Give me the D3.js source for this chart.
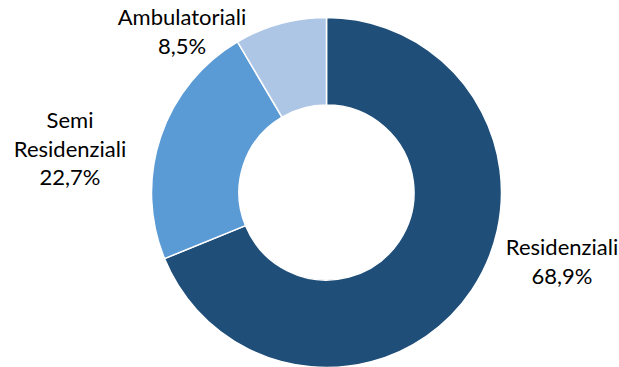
<!DOCTYPE html>
<html>
<head>
<meta charset="utf-8">
<script src="https://cdn.jsdelivr.net/npm/d3@7"></script>
<style>
  html, body { margin: 0; padding: 0; background: #fff; }
  svg { display: block; }
  text { font-family: Lato, "Open Sans", sans-serif; fill: #000; }
</style>
</head>
<body>
<svg id="chart" width="619" height="367"></svg>
<script>
// Service share by category
const categories = ["Residenziali", "Semi Residenziali", "Ambulatoriali"];
const values = [68.9, 22.7, 8.5];
const valueLabels = ["68,9%", "22,7%", "8,5%"];
const labelLines = [["Residenziali"], ["Semi", "Residenziali"], ["Ambulatoriali"]];
const colors = ["#1F4E79", "#5B9BD5", "#ADC6E6"];

const width = 619, height = 367;
const cx = 326.5, cy = 192.5;
const outerR = 175, innerR = 87.5;

const svg = d3.select("#chart");
const g = svg.append("g").attr("transform", `translate(${cx},${cy})`);

const pie = d3.pie().sort(null).value(d => d)(values);
const arc = d3.arc().innerRadius(innerR).outerRadius(outerR);

g.selectAll("path.slice")
  .data(pie)
  .join("path")
  .attr("class", "slice")
  .attr("d", arc)
  .attr("fill", (d, i) => colors[i])
  .attr("stroke", "#fff")
  .attr("stroke-width", 1.5);

// Label anchors: centre x and first baseline, relative to the donut centre
const labelPos = [[235.5, 62.5], [-256.5, -64.5], [-144.5, -167.5]];
const lineH = 28.5;

pie.forEach((d, i) => {
  const lines = labelLines[i].concat([valueLabels[i]]);
  const [lx, ly] = labelPos[i];
  const t = g.append("text")
    .attr("text-anchor", "middle")
    .attr("font-size", 22);
  lines.forEach((ln, j) => {
    t.append("tspan")
      .attr("x", lx)
      .attr("y", ly + j * lineH)
      .text(ln);
  });
});
</script>
</body>
</html>
